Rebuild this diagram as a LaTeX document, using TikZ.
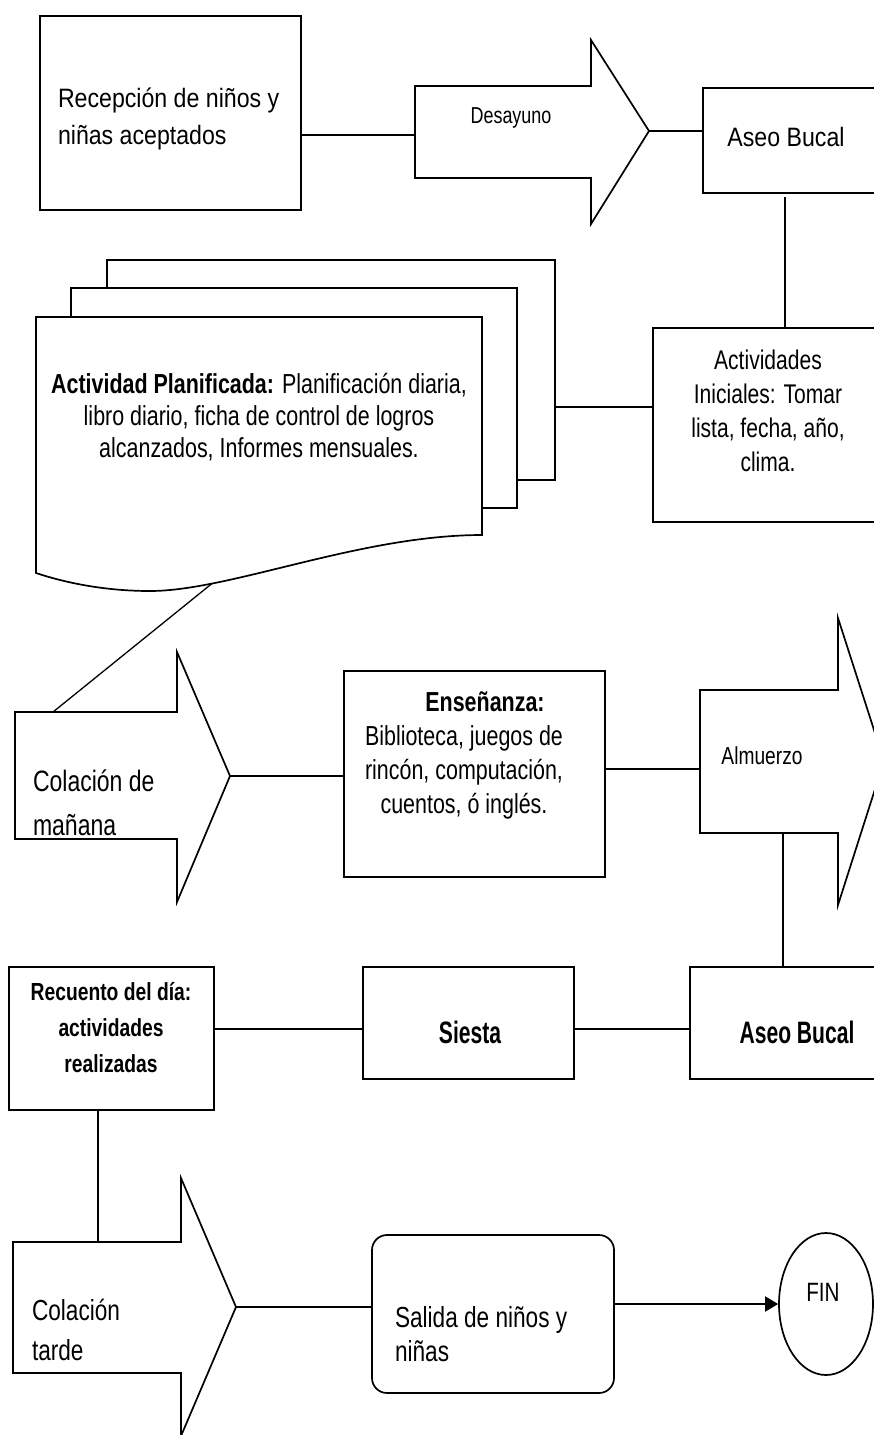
\documentclass[tikz,border=0pt]{standalone}
\usepackage{fontspec}
\setmainfont{Liberation Sans}
\newfontfamily\midfont{Liberation Sans}[FakeStretch=0.87]
\newfontfamily\narrowfont{Liberation Sans}[FakeStretch=0.78]
\newfontfamily\tightfont{Liberation Sans}[FakeStretch=0.68]
\usetikzlibrary{arrows.meta,calc,shapes.geometric}

\tikzset{
  shp/.style={draw=black, line width=1.7pt, fill=white, line join=miter},
  boxnode/.style={shp, rectangle, inner sep=0pt},
  conn/.style={draw=black, line width=1.3pt},
  txt/.style={inner sep=0pt, outer sep=0pt, text=black},
}

\begin{document}
\begin{tikzpicture}[x=1pt,y=-1pt]
\useasboundingbox (0,0) rectangle (874,1435);
\fill[white] (0,0) rectangle (874,1435);

% ---------- first row ----------
\node[boxnode, minimum width=261pt, minimum height=194pt] (recep) at (170.5,113) {};
\node[txt, anchor=west, align=left, font=\midfont\fontsize{26.6}{37}\selectfont] (recepT) at (58,118.5)
  {Recepción de niños y\\niñas aceptados};

% block arrow: Desayuno
\draw[shp] (415,86) -- (591,86) -- (591,40) -- (649,131) -- (591,224) -- (591,178) -- (415,178) -- cycle;
\coordinate (desaTail) at (415,135);
\coordinate (desaTip) at (649,131);
\node[txt, font=\narrowfont\fontsize{23}{28}\selectfont] (desaT) at (511,118) {Desayuno};

\node[boxnode, minimum width=200pt, minimum height=105pt] (aseoA) at (803,140.5) {};
\node[txt, font=\midfont\fontsize{26.6}{30}\selectfont] (aseoAT) at (786,136.5) {Aseo Bucal};

\draw[conn] (recep.east |- desaTail) -- (desaTail);
\draw[conn] (desaTip) -- (desaTip -| aseoA.west);

% ---------- initial activities ----------
\node[boxnode, minimum width=230pt, minimum height=194pt] (ini) at (768,425) {};
\node[txt, align=center, font=\narrowfont\fontsize{27}{34}\selectfont] (iniT) at (768,411)
  {Actividades\\Iniciales: Tomar\\lista, fecha, año,\\clima.};
\coordinate (vA) at (785,197);
\draw[conn] (vA) -- (vA |- ini.north);

% ---------- stacked documents ----------
\node[boxnode, minimum width=448pt, minimum height=220pt] (pageC) at (331,370) {};
\node[boxnode, minimum width=446pt, minimum height=220pt] (pageB) at (294,398) {};
\draw[shp] (36,317) -- (482,317) -- (482,535)
  .. controls (360,535) and (230,591) .. (150,591)
  .. controls (100,591) and (60,581) .. (36,573) -- cycle;
\coordinate (docW) at (212,583.5);
\node[txt, align=center, font=\narrowfont\fontsize{27.5}{32}\selectfont] (docT) at (259,417)
  {\textbf{Actividad Planificada:} Planificación diaria,\\libro diario, ficha de control de logros\\alcanzados, Informes mensuales.};
\draw[conn] (pageC.east |- 0,407) -- (ini.west |- 0,407);

% ---------- morning snack row ----------
\draw[shp] (15,712) -- (177,712) -- (177,652) -- (230,776) -- (177,902) -- (177,839) -- (15,839) -- cycle;
\coordinate (cmTop) at (53,712);
\coordinate (cmTip) at (230,776);
\node[txt, anchor=west, align=left, font=\narrowfont\fontsize{29.5}{44}\selectfont] (cmT) at (33,802.5)
  {Colación de\\mañana};
\draw[conn] (docW) -- (cmTop);

\node[boxnode, minimum width=261pt, minimum height=206pt] (ens) at (474.5,774) {};
\node[txt, align=center, font=\narrowfont\fontsize{27.5}{34}\selectfont] (ensT) at (464,755)
  {\hspace*{42pt}\textbf{Enseñanza:}\\Biblioteca, juegos de\\rincón, computación,\\cuentos, ó inglés.};
\draw[conn] (cmTip) -- (cmTip -| ens.west);

% block arrow: Almuerzo
\draw[shp] (700,690) -- (838,690) -- (838,618) -- (884,761) -- (838,905) -- (838,833) -- (700,833) -- cycle;
\coordinate (alTail) at (700,769);
\coordinate (alFoot) at (783,833);
\node[txt, font=\narrowfont\fontsize{24.6}{28}\selectfont] (alT) at (762,756) {Almuerzo};
\draw[conn] (ens.east |- alTail) -- (alTail);

% ---------- afternoon row ----------
\node[boxnode, minimum width=220pt, minimum height=112pt] (aseoB) at (800,1023) {};
\node[boxnode, minimum width=211pt, minimum height=112pt] (siesta) at (468.5,1023) {};
\node[boxnode, minimum width=205pt, minimum height=143pt] (recu) at (111.5,1038.5) {};
\node[txt, font=\tightfont\bfseries\fontsize{31}{34}\selectfont] (aseoBT) at (797,1032.5) {Aseo Bucal};
\node[txt, font=\tightfont\bfseries\fontsize{31}{34}\selectfont] (siestaT) at (470,1032.5) {Siesta};
\node[txt, align=center, font=\narrowfont\bfseries\fontsize{24.7}{36}\selectfont] (recuT) at (111,1028)
  {Recuento del día:\\actividades\\realizadas};
\coordinate (rowY) at (0,1029);
\draw[conn] (alFoot) -- (alFoot |- aseoB.north);
\draw[conn] (aseoB.west |- rowY) -- (siesta.east |- rowY);
\draw[conn] (siesta.west |- rowY) -- (recu.east |- rowY);

% ---------- last row ----------
\draw[shp] (13,1242) -- (181,1242) -- (181,1178) -- (236,1307) -- (181,1436) -- (181,1373) -- (13,1373) -- cycle;
\coordinate (ctTop) at (98,1242);
\coordinate (ctTip) at (236,1307);
\node[txt, anchor=west, align=left, font=\narrowfont\fontsize{29}{40}\selectfont] (ctT) at (32,1329.5)
  {Colación\\tarde};
\draw[conn] (recu.south -| ctTop) -- (ctTop);

\node[boxnode, rounded corners=15pt, minimum width=242pt, minimum height=158pt] (salida) at (493,1314) {};
\node[txt, anchor=west, align=left, font=\narrowfont\fontsize{29}{34}\selectfont] (salT) at (395,1334.5)
  {Salida de niños y\\niñas};
\draw[conn] (ctTip) -- (ctTip -| salida.west);

\node[ellipse, draw=black, line width=1.7pt, fill=white, minimum width=94pt, minimum height=142pt, inner sep=0pt] (fin) at (826,1304) {};
\node[txt, font=\narrowfont\fontsize{26.5}{30}\selectfont] (finT) at (823,1292) {FIN};
\draw[conn, line width=2pt, -{Triangle[length=13pt,width=15pt]}] (salida.east |- fin.west) -- (fin.west);

\end{tikzpicture}
\end{document}
